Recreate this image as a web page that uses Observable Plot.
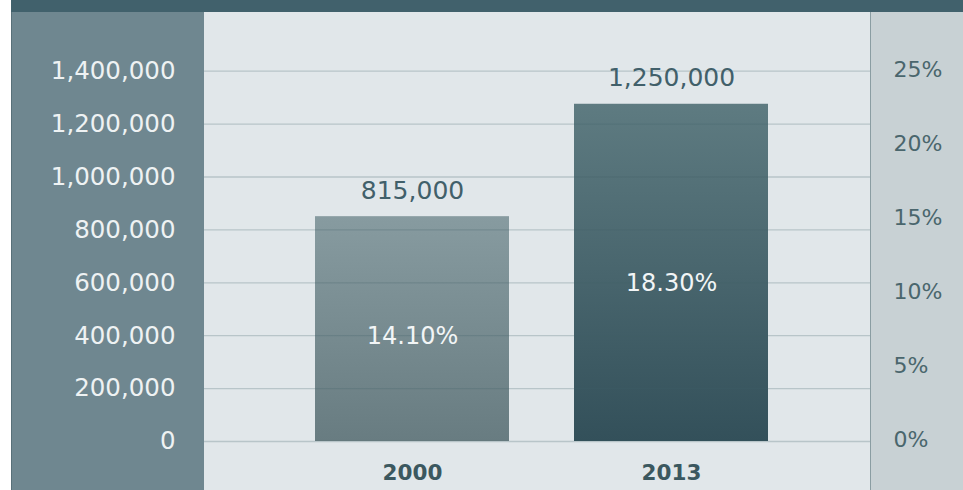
<!DOCTYPE html>
<html>
<head>
<meta charset="utf-8">
<script src="https://cdn.jsdelivr.net/npm/d3@7"></script>
<script src="https://cdn.jsdelivr.net/npm/@observablehq/plot@0.6"></script>
<style>
  body { margin: 0; background: #ffffff; }
  #wrap { position: relative; width: 963px; height: 490px; overflow: hidden; font-family: "DejaVu Sans", sans-serif; }
  .panel { position: absolute; box-sizing: border-box; }
  #topbar { left: 11px; top: 0; width: 952px; height: 12px; background: #41616c; }
  #leftp { left: 11px; top: 12px; width: 193px; height: 478px; background: #6f8790; border-left: 1px solid #587079; }
  #centerp { left: 204px; top: 12px; width: 666px; height: 478px; background: #e1e7ea; }
  #rightp { left: 870px; top: 12px; width: 93px; height: 478px; background: #c8d1d4; border-left: 1.5px solid #8a9da2; }
  #chart { position: absolute; left: 0; top: 0; }
</style>
</head>
<body>
<div id="wrap">
  <div class="panel" id="topbar"></div>
  <div class="panel" id="leftp"></div>
  <div class="panel" id="centerp"></div>
  <div class="panel" id="rightp"></div>
  <div id="chart"></div>
</div>
<script>
// ---- data ----
const years = ["2000", "2013"];
const totals = [850000, 1275000];          // bar heights as drawn
const totalLabels = ["815,000", "1,250,000"]; // printed value labels
const shares = ["14.10%", "18.30%"];        // printed share labels
const yTicks = [0, 200000, 400000, 600000, 800000, 1000000, 1200000, 1400000];
const pctTicks = [0, 5, 10, 15, 20, 25];
const yMax = 1400000;
const pctMax = 25;

const gradients = {
  "2000": ["#879ba0", "#687c81"],
  "2013": ["#5e7b81", "#33505a"]
};

const table = years.map((year, i) => ({
  year,
  total: totals[i],
  label: totalLabels[i],
  share: shares[i],
  grad: `url(#grad-${year})`
}));

const defs = () => {
  const d = d3.create("svg:defs");
  for (const year of years) {
    const g = d.append("linearGradient")
      .attr("id", `grad-${year}`)
      .attr("x1", 0).attr("y1", 0).attr("x2", 0).attr("y2", 1);
    g.append("stop").attr("offset", "0%").attr("stop-color", gradients[year][0]);
    g.append("stop").attr("offset", "100%").attr("stop-color", gradients[year][1]);
  }
  return d.node();
};

const chart = Plot.plot({
  width: 963,
  height: 490,
  marginLeft: 204,
  marginRight: 93,
  marginTop: 70.7,
  marginBottom: 49,
  style: { background: "transparent", fontFamily: "DejaVu Sans", overflow: "visible" },
  x: { domain: years, range: [250.1, 834], padding: 0.25, axis: null, label: null },
  y: { domain: [0, yMax], axis: null, label: null },
  color: { type: "identity" },
  marks: [
    defs,
    Plot.barY(table, { x: "year", y: "total", fill: "grad" }),
    Plot.ruleY(yTicks, { stroke: "#3f5f66", strokeOpacity: 0.25, strokeWidth: 1.3 }),
    Plot.text(table, { x: "year", y: "total", text: "label", dy: -26, fontSize: 25, fill: "#41606a" }),
    Plot.text(table, { x: "year", y: d => d.total * 0.47, text: "share", fontSize: 24, fill: "#f2f5f6" }),
    Plot.axisY({
      ticks: yTicks, tickFormat: d3.format(","), tickSize: 0, tickPadding: 29,
      fontSize: 24.5, color: "#eef2f3", label: null
    }),
    Plot.axisY({
      anchor: "right",
      ticks: pctTicks.map(p => p / pctMax * yMax),
      tickFormat: v => `${Math.round(v / yMax * pctMax)}%`,
      tickSize: 0, tickPadding: 23, fontSize: 22, color: "#4a666d", dy: -1.5, label: null
    }),
    Plot.axisX({
      tickSize: 0, tickPadding: 23, fontSize: 21.5, fontWeight: "bold",
      color: "#3b585f", label: null
    })
  ]
});

document.getElementById("chart").appendChild(chart);
</script>
</body>
</html>
